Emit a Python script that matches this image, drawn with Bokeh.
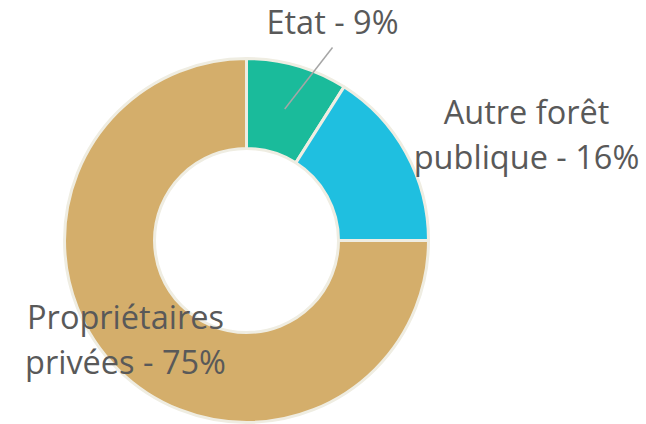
import math
from bokeh.plotting import figure
from bokeh.models import Range1d
from bokeh.core.properties import value
from bokeh.embed import file_html
from bokeh.resources import INLINE

categories = ["Etat", "Autre forêt publique", "Propriétaires privées"]
shares = [9, 16, 75]
labels = ["Etat - 9%", "Autre forêt\npublique - 16%", "Propriétaires\nprivées - 75%"]
colors = ["#1ABB9B", "#1FBFE0", "#D4AE6B"]

W, H = 646, 424
p = figure(width=W, height=H, output_backend="svg", toolbar_location=None,
           x_range=Range1d(0, 646), y_range=Range1d(0, 424), min_border=0)
p.axis.visible = False
p.grid.visible = False
p.outline_line_color = None
p.background_fill_color = "white"

cx, cy = 246, 424 - 240
r_in, r_out = 92, 182

total = sum(shares)
starts, ends, mids = [], [], []
a = 90.0
for s in shares:
    span = 360.0 * s / total
    starts.append(math.radians(a))
    ends.append(math.radians(a - span))
    mids.append(math.radians(a - span / 2))
    a -= span

p.annular_wedge(x=[cx] * 3, y=[cy] * 3, inner_radius=r_in, outer_radius=r_out,
                start_angle=starts, end_angle=ends, direction="clock",
                fill_color=colors, line_color="#EFEDE2", line_width=3)

# leader line for the first slice
rm = (r_in + r_out) / 2
lx0 = cx + rm * math.cos(mids[0])
ly0 = cy + rm * math.sin(mids[0])
p.line(x=[lx0, 332], y=[ly0, 424 - 47], line_color="#A6A6A6", line_width=1.5)

# label anchors (center of text, first baseline)
anchors = [(332, 424 - 21), (526, 424 - 111), (125, 424 - 316)]
lh = 45
tx, ty, tt = [], [], []
for (ax, ay), lab in zip(anchors, labels):
    for i, line in enumerate(lab.split("\n")):
        tx.append(ax)
        ty.append(ay - i * lh)
        tt.append(line)
p.text(x=tx, y=ty, text=tt, text_align="center", text_baseline="alphabetic",
       text_font=value("Open Sans"), text_font_size="32.5px", text_color="#595959")

open("out.html", "w").write(file_html(p, INLINE))
